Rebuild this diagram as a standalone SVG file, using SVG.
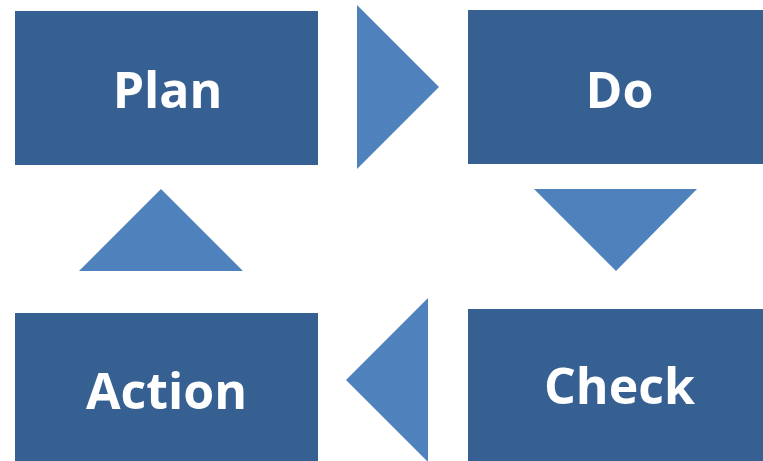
<svg xmlns="http://www.w3.org/2000/svg" width="763" height="461" viewBox="0 0 763 461">
  <style>
    .box { fill: #376092; }
    .arrow { fill: #4f81bd; }
    .label { fill: #ffffff; font-family: "Open Sans", "Noto Sans", "Liberation Sans", sans-serif; font-weight: 700; font-size: 50px; text-anchor: middle; }
  </style>
  <rect width="763" height="461" fill="#ffffff"/>
  <g id="plan">
    <rect class="box" x="15" y="11" width="303" height="154"/>
    <text class="label" x="167.5" y="108">Plan</text>
  </g>
  <g id="do">
    <rect class="box" x="468" y="10" width="295" height="154"/>
    <text class="label" x="619.5" y="108">Do</text>
  </g>
  <g id="check">
    <rect class="box" x="468" y="309" width="295" height="152"/>
    <text class="label" x="619.5" y="404">Check</text>
  </g>
  <g id="action">
    <rect class="box" x="15" y="313" width="303" height="148"/>
    <text class="label" x="166.5" y="409">Action</text>
  </g>
  <g id="connectors">
    <polygon class="arrow" points="357,5 439,87 357,169"/>
    <polygon class="arrow" points="534,189 697,189 616,271"/>
    <polygon class="arrow" points="428,298 428,462 346,380"/>
    <polygon class="arrow" points="79,271 243,271 161,189"/>
  </g>
</svg>
